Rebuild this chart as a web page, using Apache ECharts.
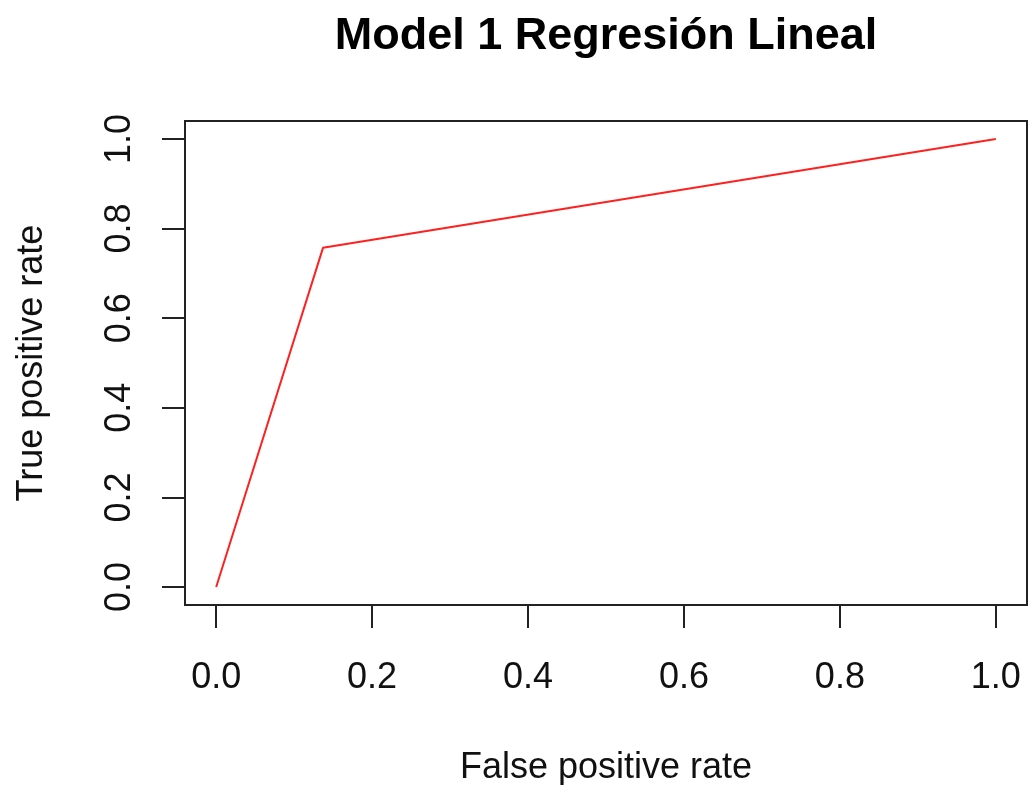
<!DOCTYPE html>
<html>
<head>
<meta charset="utf-8">
<script src="https://cdn.jsdelivr.net/npm/echarts@6/dist/echarts.min.js"></script>
<style>
  html, body { margin: 0; padding: 0; background: #fff; }
  #chart { width: 1028px; height: 785px; }
</style>
</head>
<body>
<div id="chart"></div>
<script>
// ROC curve points
const fpr = [0, 0.137, 1];
const tpr = [0, 0.757, 1];
const ticks = [0, 0.2, 0.4, 0.6, 0.8, 1];
const titleText = 'Model 1 Regresión Lineal';
const xName = 'False positive rate';
const yName = 'True positive rate';

const font = '"Liberation Sans", Arial, Helvetica, sans-serif';
const ink = '#222';

const chart = echarts.init(document.getElementById('chart'), null, { renderer: 'canvas' });

chart.setOption({
  animation: false,
  backgroundColor: '#fff',
  grid: [
    // plot box, R pads the range by 4% on each side
    { left: 185, top: 121, width: 842, height: 484, show: true, outerBoundsMode: 'none',
      containLabel: false, borderColor: ink, borderWidth: 2, backgroundColor: 'transparent' }
  ],
  xAxis: [
    {
      type: 'value', min: -0.04, max: 1.04, position: 'bottom',
      name: xName, nameLocation: 'middle', nameGap: 145,
      nameTextStyle: { fontFamily: font, fontSize: 36, color: '#111' },
      axisLine: { show: false, onZero: false },
      axisTick: { show: true, customValues: ticks, length: 23, lineStyle: { color: ink, width: 2 } },
      axisLabel: { customValues: ticks, margin: 55, fontFamily: font, fontSize: 36, color: '#111',
        formatter: v => v.toFixed(1) },
      splitLine: { show: false }
    },
    {
      // used only to carry the title, centred over the plot box
      type: 'value', min: -0.04, max: 1.04, position: 'top',
      name: titleText, nameLocation: 'middle', nameGap: 62,
      nameTextStyle: { fontFamily: font, fontSize: 45, fontWeight: 'bold', color: '#000' },
      axisLine: { show: false, onZero: false }, axisTick: { show: false },
      axisLabel: { show: false }, splitLine: { show: false }
    }
  ],
  yAxis: [
    {
      type: 'value', min: -0.04, max: 1.04, position: 'left',
      name: yName, nameLocation: 'middle', nameGap: 135, nameRotate: 90,
      nameTextStyle: { fontFamily: font, fontSize: 36, color: '#111' },
      axisLine: { show: false, onZero: false },
      axisTick: { show: true, customValues: ticks, length: 23, lineStyle: { color: ink, width: 2 } },
      axisLabel: { customValues: ticks, margin: 47, rotate: 90, fontFamily: font, fontSize: 36, color: '#111',
        formatter: v => v.toFixed(1) },
      splitLine: { show: false }
    }
  ],
  series: [
    {
      type: 'line',
      data: fpr.map((x, i) => [x, tpr[i]]),
      symbol: 'none',
      lineStyle: { color: '#ff2020', width: 2 }
    }
  ]
});
</script>
</body>
</html>
